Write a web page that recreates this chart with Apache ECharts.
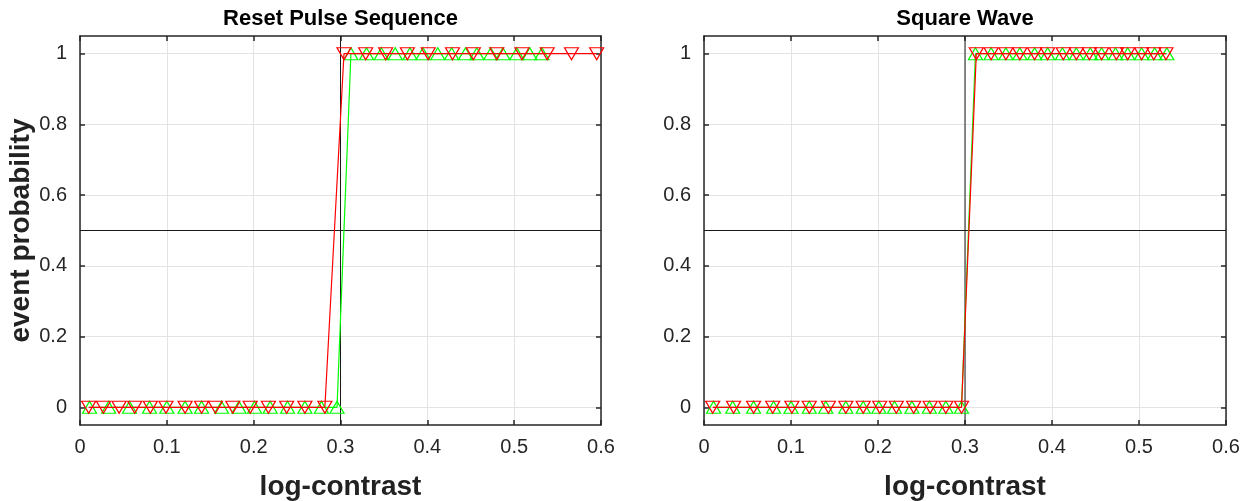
<!DOCTYPE html>
<html>
<head>
<meta charset="utf-8">
<script src="https://cdn.jsdelivr.net/npm/echarts@6/dist/echarts.min.js"></script>
<style>
  html, body { margin: 0; padding: 0; background: #fff; }
  #chart { width: 1251px; height: 501px; }
</style>
</head>
<body>
<div id="chart"></div>
<script>
// titles / labels
var panelTitles = ['Reset Pulse Sequence', 'Square Wave']
var xLabel = 'log-contrast'
var yLabel = 'event probability'
var yTicks = [0, 0.2, 0.4, 0.6, 0.8, 1]

// green (up triangles), same contrasts in both panels
var greenX = [0.011, 0.033, 0.057, 0.080, 0.100, 0.121, 0.140, 0.163, 0.183, 0.201, 0.219, 0.239, 0.259, 0.278, 0.296,
  0.312, 0.330, 0.347, 0.363, 0.380, 0.395, 0.412, 0.428, 0.444, 0.457, 0.473, 0.487, 0.503, 0.518, 0.532]
var greenY = [0, 0, 0, 0, 0, 0, 0, 0, 0, 0, 0, 0, 0, 0, 0,
  1, 1, 1, 1, 1, 1, 1, 1, 1, 1, 1, 1, 1, 1, 1]

// red (down triangles), left panel
var redLeftX = [0.010, 0.027, 0.045, 0.063, 0.081, 0.099, 0.121, 0.140, 0.156, 0.176, 0.196, 0.217, 0.238, 0.259, 0.282,
  0.304, 0.329, 0.352, 0.377, 0.401, 0.429, 0.453, 0.480, 0.509, 0.538, 0.566, 0.595]
var redLeftY = [0, 0, 0, 0, 0, 0, 0, 0, 0, 0, 0, 0, 0, 0, 0,
  1, 1, 1, 1, 1, 1, 1, 1, 1, 1, 1, 1]

// red, right panel
var redRightX = [0.010, 0.034, 0.057, 0.079, 0.101, 0.121, 0.143, 0.163, 0.183, 0.202, 0.221, 0.241, 0.260, 0.278, 0.296,
  0.313, 0.330, 0.347, 0.363, 0.380, 0.395, 0.413, 0.428, 0.443, 0.457, 0.474, 0.487, 0.503, 0.517, 0.531]
var redRightY = greenY.slice()

// reference lines
var refH = [[0, 0.5], [0.6, 0.5]]
var refV = [[0.3, -0.05], [0.3, 1.05]]

var chart = echarts.init(document.getElementById('chart'))
var axisCol = '#262626'
var font = 'Liberation Sans, Arial, sans-serif'

function zip (xs, ys) {
  return xs.map(function (x, i) { return [x, ys[i]] })
}

function xAx (grid, top, title) {
  return {
    type: 'value',
    gridIndex: grid,
    position: top ? 'top' : 'bottom',
    min: 0,
    max: 0.6,
    interval: 0.1,
    name: top ? title : xLabel,
    nameLocation: 'middle',
    nameGap: top ? 6 : 48,
    nameTextStyle: top
      ? { fontFamily: font, fontWeight: 'bold', fontSize: 22, color: '#000' }
      : { fontFamily: font, fontWeight: 'bold', fontSize: 28, color: '#222' },
    axisLine: { show: true, onZero: false, lineStyle: { color: axisCol, width: 1.5 } },
    axisTick: { show: true, inside: true, length: 5, lineStyle: { color: axisCol, width: 1.5 } },
    axisLabel: { show: !top, fontFamily: font, fontSize: 20, color: axisCol, margin: 12 },
    splitLine: { show: !top, lineStyle: { color: '#e3e3e3', width: 1 } }
  }
}

function yAx (grid, right, named) {
  return {
    type: 'value',
    gridIndex: grid,
    position: right ? 'right' : 'left',
    min: -0.05,
    max: 1.05,
    name: named ? yLabel : '',
    nameLocation: 'middle',
    nameGap: 41,
    nameTextStyle: { fontFamily: font, fontWeight: 'bold', fontSize: 28, color: '#222' },
    axisLine: { show: true, onZero: false, lineStyle: { color: axisCol, width: 1.5 } },
    axisTick: { show: true, inside: true, length: 5, customValues: yTicks, lineStyle: { color: axisCol, width: 1.5 } },
    axisLabel: { show: !right, customValues: yTicks, fontFamily: font, fontSize: 20, color: axisCol, margin: 13 },
    splitLine: { show: !right, lineStyle: { color: '#e3e3e3', width: 1 } }
  }
}

function refSeries (grid, data) {
  return {
    type: 'line',
    xAxisIndex: grid * 2,
    yAxisIndex: grid * 2,
    data: data,
    symbol: 'none',
    lineStyle: { color: '#1a1a1a', width: 1 },
    silent: true,
    z: 2
  }
}

function dataSeries (grid, xs, ys, color, down) {
  return {
    type: 'line',
    xAxisIndex: grid * 2,
    yAxisIndex: grid * 2,
    data: zip(xs, ys),
    symbol: 'triangle',
    symbolSize: [14, 12],
    symbolRotate: down ? 180 : 0,
    showAllSymbol: true,
    lineStyle: { color: color, width: 1.2 },
    itemStyle: { color: 'rgba(0,0,0,0)', borderColor: color, borderWidth: 1.2 },
    emphasis: { disabled: true },
    silent: true,
    z: down ? 4 : 3
  }
}

chart.setOption({
  animation: false,
  grid: [
    { left: 80, width: 521, top: 36, height: 389, outerBoundsMode: 'none', containLabel: false },
    { left: 704, width: 522, top: 36, height: 389, outerBoundsMode: 'none', containLabel: false }
  ],
  xAxis: [xAx(0, false), xAx(0, true, panelTitles[0]), xAx(1, false), xAx(1, true, panelTitles[1])],
  yAxis: [yAx(0, false, true), yAx(0, true), yAx(1, false, false), yAx(1, true)],
  series: [
    refSeries(0, refH),
    refSeries(0, refV),
    dataSeries(0, greenX, greenY, '#00ff00', false),
    dataSeries(0, redLeftX, redLeftY, '#ff0000', true),
    refSeries(1, refH),
    refSeries(1, refV),
    dataSeries(1, greenX, greenY, '#00ff00', false),
    dataSeries(1, redRightX, redRightY, '#ff0000', true)
  ]
})

window.addEventListener('resize', function () {
  chart.resize()
})
</script>
</body>
</html>
